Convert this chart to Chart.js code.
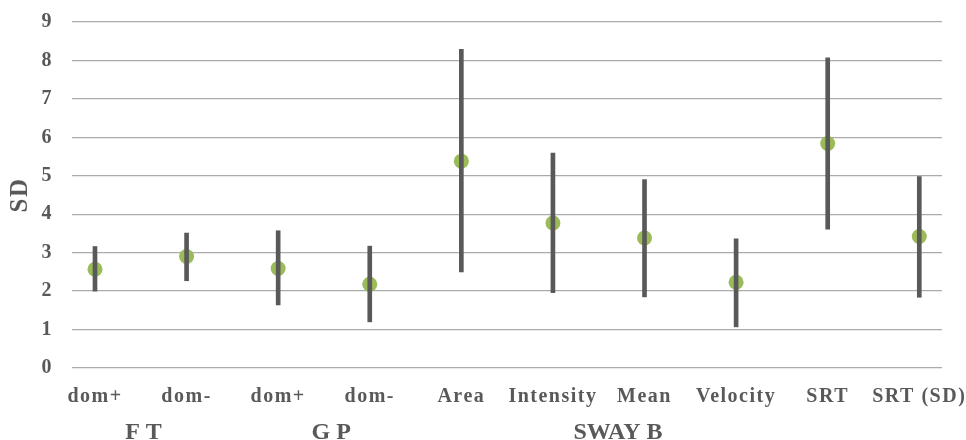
<!DOCTYPE html>
<html>
<head>
<meta charset="utf-8">
<script src="https://cdn.jsdelivr.net/npm/chart.js@4"></script>
<style>
  html, body { margin: 0; padding: 0; background: #fff; }
  #wrap { width: 966px; height: 440px; }
</style>
</head>
<body>
<div id="wrap"><canvas id="sdchart" width="966" height="440"></canvas></div>
<script>
// categories and values
var categories = ['dom+', 'dom-', 'dom+', 'dom-', 'Area', 'Intensity', 'Mean', 'Velocity', 'SRT', 'SRT (SD)'];
var meanValues = [2.57, 2.90, 2.59, 2.18, 5.38, 3.77, 3.38, 2.23, 5.84, 3.42];
var lowValues  = [2.00, 2.27, 1.64, 1.20, 2.50, 1.96, 1.85, 1.07, 3.61, 1.84];
var highValues = [3.16, 3.51, 3.57, 3.17, 8.29, 5.59, 4.90, 3.36, 8.07, 4.98];
var groupLabels = ['F T', 'G P', 'SWAY B'];
var yTicks = [0, 1, 2, 3, 4, 5, 6, 7, 8, 9];

// where group captions sit, in category-index units
var groupCenters = [0.53, 2.58, 5.71];

var TEXT = '#595959';
var SERIF = "'Liberation Serif', 'Times New Roman', serif";

/*----------------------------------------*/
/*  letter spacing + group captions
/*----------------------------------------*/
var spacing = {
	id: 'spacing',
	beforeUpdate: function (chart) { chart.ctx.letterSpacing = '1.5px'; },
	beforeDraw: function (chart) { chart.ctx.letterSpacing = '1.5px'; }
};

var groupCaptions = {
	id: 'groupCaptions',
	afterDraw: function (chart) {
		var ctx = chart.ctx;
		var xs = chart.scales.x;
		ctx.save();
		ctx.letterSpacing = '0px';
		ctx.font = 'bold 24px ' + SERIF;
		ctx.fillStyle = TEXT;
		ctx.textAlign = 'center';
		ctx.textBaseline = 'alphabetic';
		for (var i = 0; i < groupLabels.length; i++) {
			ctx.fillText(groupLabels[i], xs.getPixelForValue(groupCenters[i]), chart.height - 1);
		}
		ctx.restore();
	}
};

function noPad(scale) {
	scale.paddingLeft = 0;
	scale.paddingRight = 0;
	scale.paddingTop = 0;
	scale.paddingBottom = 0;
}

var ctx = document.getElementById('sdchart');
var sdchart = new Chart(ctx, {
	type: 'bar',
	data: {
		datasets: [{
			type: 'bar',
			label: 'range',
			data: categories.map(function (c, i) { return { x: i, y: [lowValues[i], highValues[i]] }; }),
			backgroundColor: TEXT,
			borderWidth: 0,
			barThickness: 4,
			order: 0
		}, {
			type: 'line',
			label: 'SD',
			data: categories.map(function (c, i) { return { x: i, y: meanValues[i] }; }),
			showLine: false,
			pointRadius: 7.5,
			pointBorderWidth: 0,
			pointBackgroundColor: '#9bbb59',
			pointBorderColor: '#9bbb59',
			order: 1
		}]
	},
	options: {
		responsive: false,
		animation: false,
		layout: { padding: { left: 0, right: 24, top: 22, bottom: 0 } },
		plugins: {
			legend: { display: false },
			tooltip: { enabled: false }
		},
		scales: {
			x: {
				type: 'linear',
				offset: false,
				min: -0.251,
				max: 9.248,
				grid: { display: false },
				border: { display: false },
				afterFit: function (scale) { scale.height = 72; noPad(scale); },
				afterBuildTicks: function (scale) {
					scale.ticks = categories.map(function (c, i) { return { value: i }; });
				},
				ticks: {
					autoSkip: false,
					maxRotation: 0,
					padding: 9,
					color: TEXT,
					font: { family: SERIF, size: 20, weight: 'bold' },
					callback: function (v) { return categories[v]; }
				}
			},
			y: {
				min: 0,
				max: 9,
				afterFit: function (scale) { scale.width = 72; noPad(scale); },
				afterBuildTicks: function (scale) {
					scale.ticks = yTicks.map(function (t) { return { value: t }; });
				},
				grid: { color: '#ababab', lineWidth: 1.3, drawTicks: false },
				border: { display: false },
				ticks: {
					padding: 19,
					color: TEXT,
					font: { family: SERIF, size: 20, weight: 'bold' }
				},
				title: {
					display: true,
					text: 'SD',
					color: TEXT,
					padding: { top: 6, bottom: 0 },
					font: { family: SERIF, size: 25, weight: 'bold' }
				}
			}
		}
	},
	plugins: [spacing, groupCaptions]
});
</script>
</body>
</html>
